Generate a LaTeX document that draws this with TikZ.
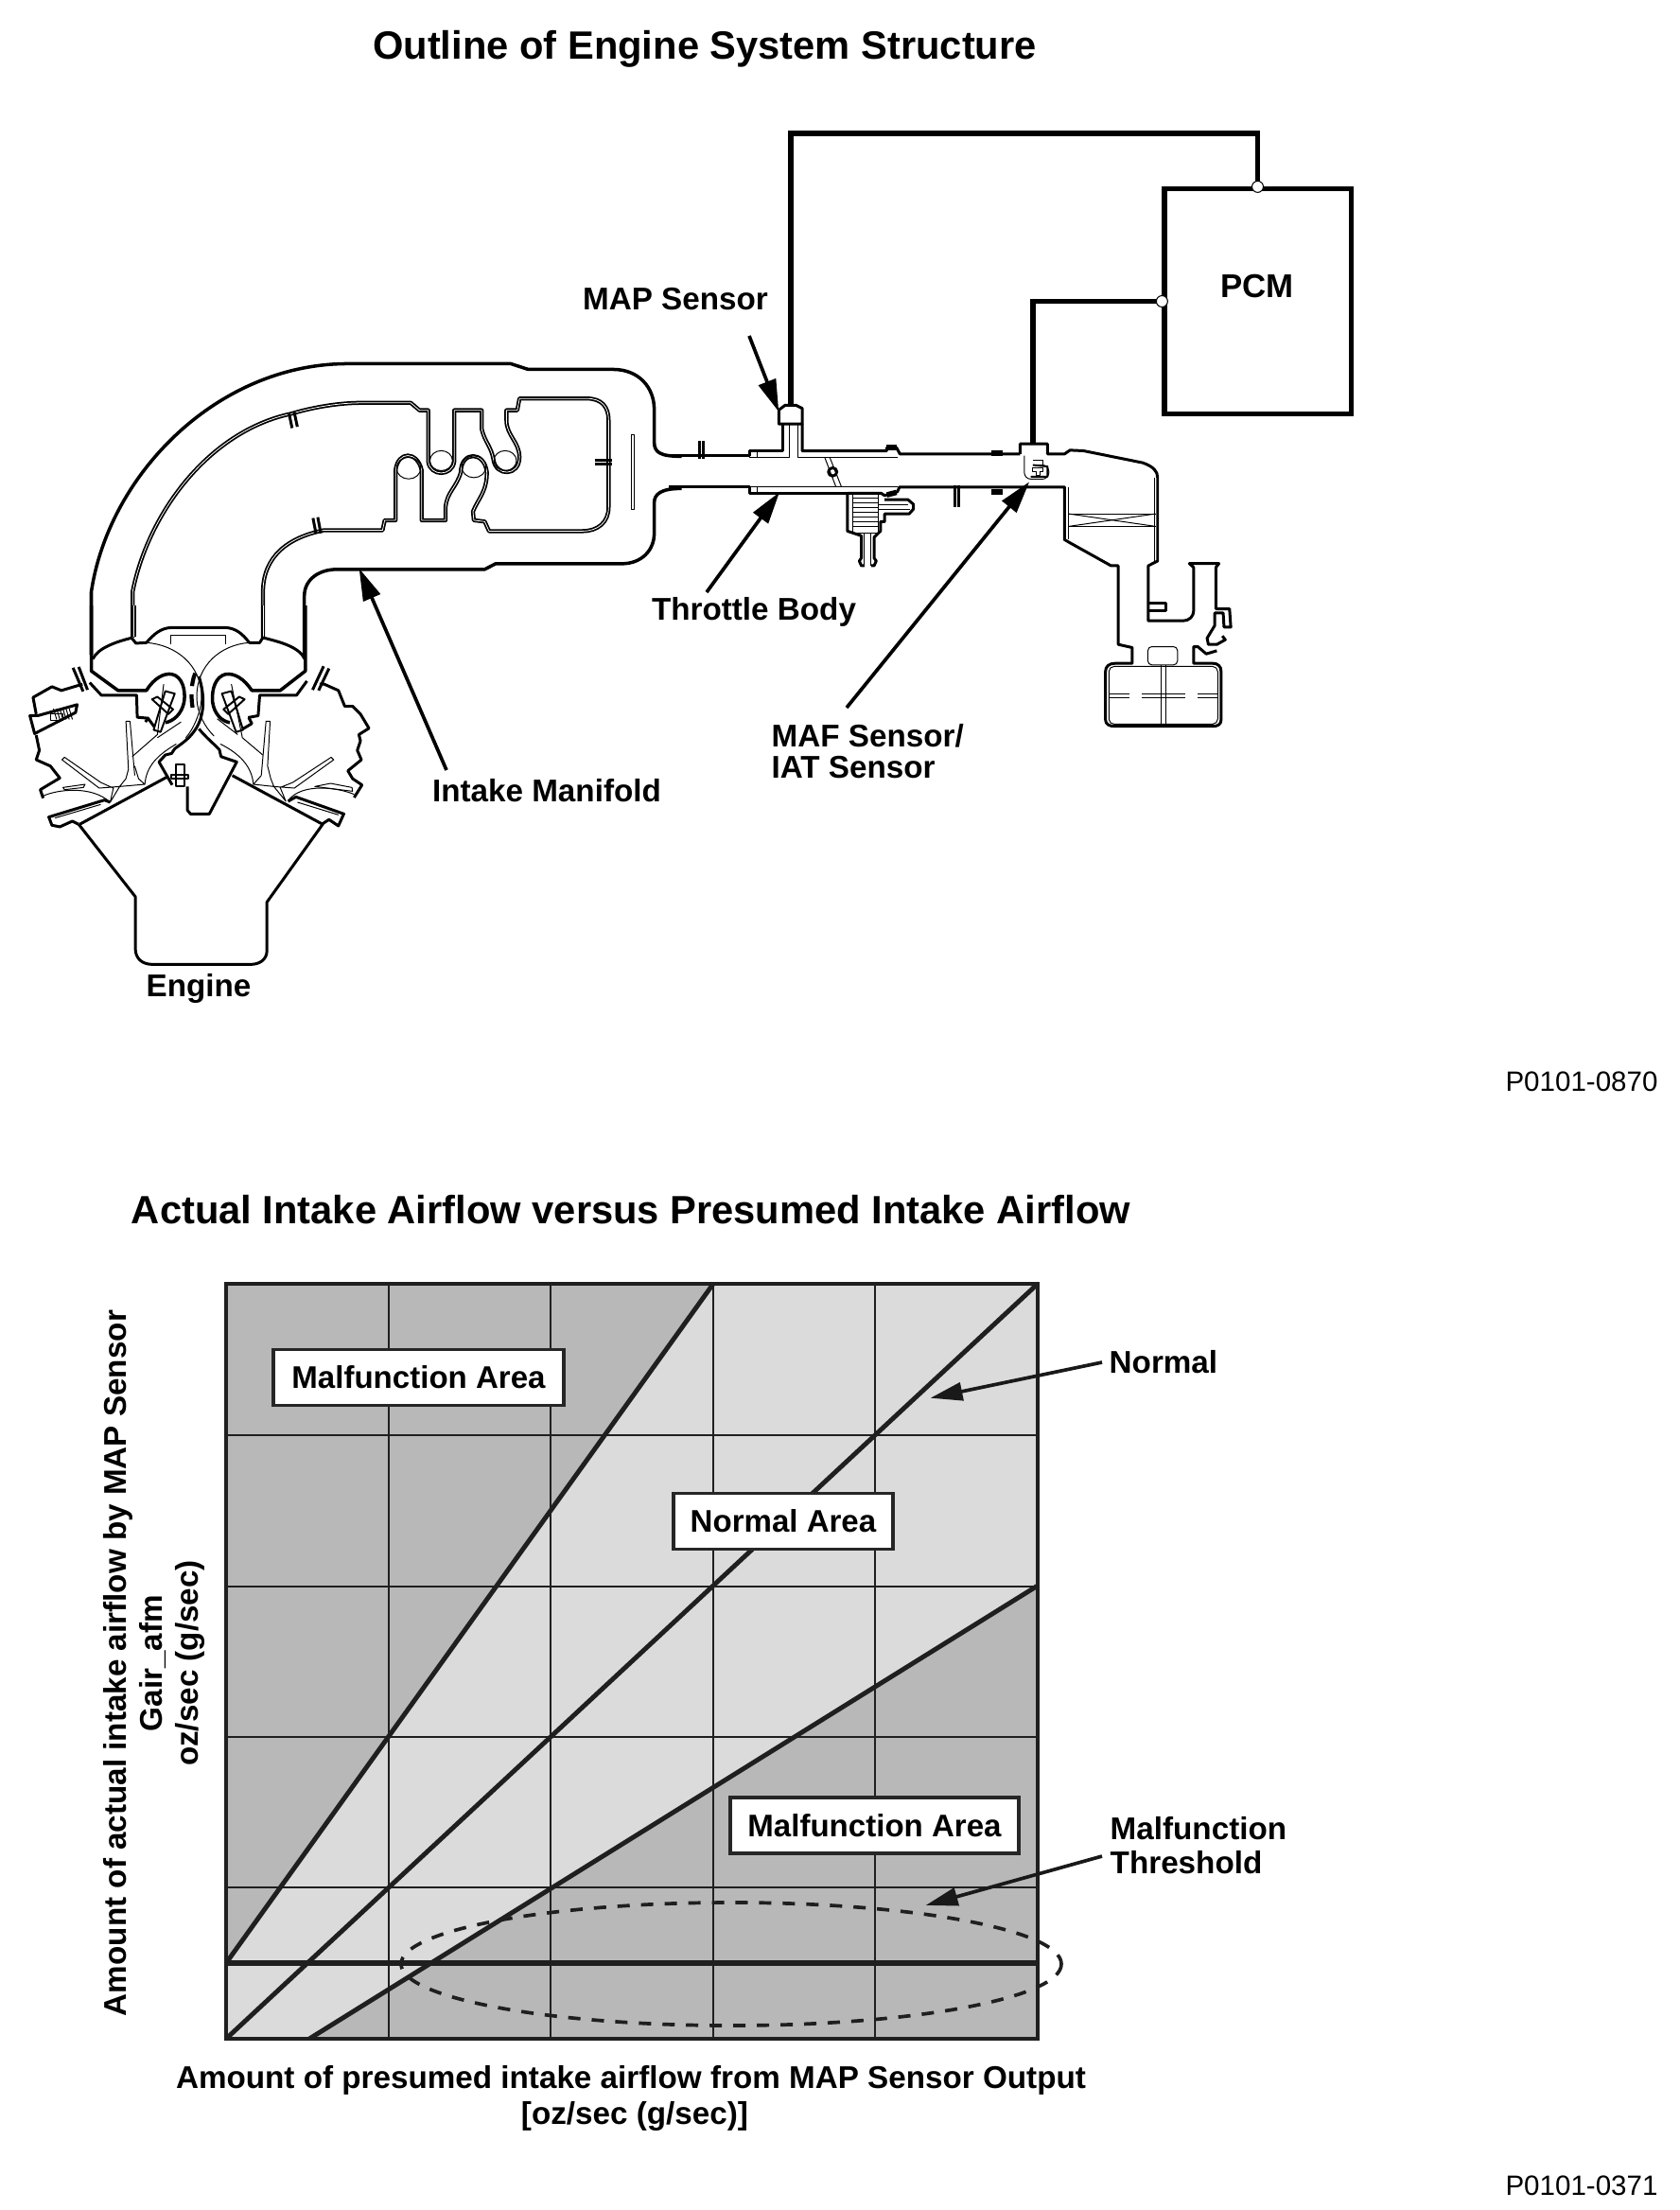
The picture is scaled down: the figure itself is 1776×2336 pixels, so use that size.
\documentclass[tikz,border=0pt]{standalone}
\usepackage{fontspec}
\setmainfont{Liberation Sans}
\usetikzlibrary{arrows.meta,positioning}
\definecolor{darkarea}{gray}{0.72}
\definecolor{lightarea}{gray}{0.86}
\begin{document}
\begin{tikzpicture}[x=0.01cm,y=-0.01cm,
    wall/.style={line width=.85pt,line join=round},
    outerwall/.style={line width=1pt,line join=round},
    duct/.style={line width=.5pt,double=white,double distance=.22pt,line join=round},
    thinwall/.style={line width=.55pt,line join=round},
    fine/.style={line width=.28pt,line join=round},
    wire/.style={line width=1.45pt},
    pointer/.style={line width=1.05pt,-{Triangle[length=3.4mm,width=1.9mm]},shorten >=-1pt},
    gridline/.style={line width=.72pt,color=black!88},
    limitline/.style={line width=1.4pt,color=black!88},
    headtext/.style={font=\fontsize{11.85}{14}\selectfont\bfseries,inner sep=0pt},
    labeltext/.style={font=\fontsize{9.45}{11.5}\selectfont\bfseries,inner sep=0pt},
    codetext/.style={font=\fontsize{8.4}{10}\selectfont,inner sep=0pt},
    areabox/.style={draw=black!85,fill=white,line width=1.1pt,font=\fontsize{9.4}{11}\selectfont\bfseries,inner sep=0pt,minimum height=.59cm},
    pin/.style={circle,draw=black,fill=white,line width=.3pt,inner sep=0pt,minimum size=3.4pt},
    partA/.style={shift={(0,350)},x=0.00459cm,y=-0.00459cm},
    partB/.style={shift={(640,380)},x=0.004464cm,y=-0.003333cm},
    partC/.style={shift={(0,640)},x=0.003333cm,y=-0.003333cm},
]
    \useasboundingbox (0,0) rectangle (1776,2336);

    \node[headtext] (title) at (745,52) {Outline of Engine System Structure};

    \begin{scope}[partA]
        \draw[outerwall] (210,745) -- (210,600) .. controls (250,330) and (500,75) .. (800,75) -- (1175,75) -- (1215,88) -- (1410,88) .. controls (1470,88) and (1505,130) .. (1505,180) -- (1505,255) .. controls (1505,280) and (1520,288) .. (1568,288);
        \draw[outerwall] (700,745) -- (700,610) .. controls (700,570) and (735,548) .. (775,548) -- (1115,548) -- (1140,535) -- (1430,535) .. controls (1475,535) and (1505,505) .. (1505,465) -- (1505,395) .. controls (1505,375) and (1520,362) .. (1568,362);
        \draw[duct] (305,705) -- (305,600) .. controls (340,420) and (480,230) .. (670,190) .. controls (720,175) and (780,165) .. (830,165) -- (945,165) -- (965,182) -- (985,182) -- (985,300) .. controls (990,335) and (1040,335) .. (1045,300) -- (1045,182) -- (1108,182) -- (1108,225) .. controls (1115,255) and (1130,265) .. (1135,295) .. controls (1140,335) and (1195,335) .. (1195,290) .. controls (1195,255) and (1165,240) .. (1165,205) -- (1165,182) -- (1190,182) -- (1195,155) -- (1350,155) .. controls (1385,155) and (1400,175) .. (1400,205) -- (1400,405) .. controls (1400,440) and (1375,460) .. (1340,460) -- (1125,460) -- (1115,438) -- (1090,435) -- (1088,415) .. controls (1100,385) and (1120,370) .. (1120,325) .. controls (1115,275) and (1060,275) .. (1060,325) .. controls (1050,360) and (1028,370) .. (1025,405) -- (1025,435) -- (970,435) -- (970,320) .. controls (960,275) and (915,275) .. (910,320) -- (910,435) -- (885,435) -- (880,458) -- (745,458) .. controls (660,475) and (605,520) .. (605,600) -- (605,705);
        \draw[fine] (1015,298) ellipse [x radius=26,y radius=23];
        \draw[fine] (1162,298) ellipse [x radius=26,y radius=23];
        \draw[fine] (1090,312) ellipse [x radius=28,y radius=25];
        \draw[fine] (940,315) ellipse [x radius=28,y radius=25];
        \draw[wall] (665,190) -- (672,223);
        \draw[wall] (677,187) -- (684,220);
        \draw[wall] (720,430) -- (727,466);
        \draw[wall] (731,428) -- (738,465);
        \draw[wall] (1368,297) -- (1408,297);
        \draw[wall] (1368,306) -- (1408,306);
        \draw[fine] (1452,238) rectangle (1458,410);
    \end{scope}

    \begin{scope}[partB]
        \draw[wall] (150,305) -- (340,305) -- (340,290) -- (420,290) -- (420,205);
        \draw[wall] (465,205) -- (465,290) -- (665,290) -- (665,280) -- (688,280) -- (696,300) -- (980,300);
        \draw[wall] (410,205) -- (410,160) -- (425,145) -- (450,145) -- (465,155) -- (465,205) -- cycle;
        \draw[wall] (980,300) -- (980,268) -- (1045,268) -- (1045,300) -- (1085,300) -- (1098,288) -- (1130,290) -- (1270,328) .. controls (1295,340) and (1305,355) .. (1305,375) -- (1305,640) -- (1283,655) -- (1283,830) -- (1365,830) .. controls (1380,830) and (1390,815) .. (1390,800) -- (1390,660) -- (1380,648) -- (1450,648) -- (1443,660) -- (1443,792) -- (1475,792) -- (1478,850) -- (1462,850) -- (1460,805) -- (1440,805) -- (1440,845) -- (1422,885) -- (1425,905) -- (1445,905) -- (1465,890) -- (1458,878);
        \draw[wall] (1445,925) -- (1420,935) -- (1400,912) -- (1390,912) -- (1390,965) -- (1435,965) .. controls (1448,965) and (1455,975) .. (1455,990) -- (1455,1145) .. controls (1455,1158) and (1448,1165) .. (1435,1165) -- (1205,1165) .. controls (1190,1165) and (1182,1158) .. (1182,1145) -- (1182,990) .. controls (1182,975) and (1190,965) .. (1205,965) -- (1245,965) -- (1245,915) -- (1212,905) -- (1212,655) -- (1195,655) -- (1095,580) -- (1085,572) -- (1085,405) -- (695,405) -- (690,420) -- (660,432) -- (652,425) -- (572,425) -- (572,545) -- (605,560) -- (605,630) -- (600,640) -- (605,655) -- (612,655);
        \draw[wall] (628,655) -- (635,655) -- (640,640) -- (635,630) -- (635,565) -- (650,545) -- (650,515) -- (660,515) -- (660,490) -- (718,490) -- (728,475) -- (728,460) -- (715,445) -- (660,445);
        \draw[wall] (572,425) -- (340,425) -- (340,405) -- (150,405);
        \draw[fine] (340,310) -- (435,310) -- (435,205);
        \draw[fine] (455,205) -- (455,310) -- (690,310);
        \draw[fine] (358,290) -- (358,310);
        \draw[fine] (358,405) -- (358,425);
        \draw[fine] (340,405) -- (690,405);
        \draw[fine] (518,310) -- (545,405);
        \draw[fine] (530,310) -- (558,405);
        \draw[wall] (537,357) ellipse [x radius=10,y radius=13];
        \draw[wall] (222,258) -- (222,315);
        \draw[wall] (232,258) -- (232,315);
        \draw[wall] (825,400) -- (825,470);
        \draw[wall] (835,400) -- (835,470);
        \draw[wall,line width=1.6pt] (665,280) -- (688,280);
        \draw[wall,line width=1.6pt] (665,430) -- (688,422);
        \draw[wall,line width=1.6pt] (912,297) -- (940,297);
        \draw[wall,line width=1.6pt] (912,420) -- (940,420);
        \draw[fine] (585,425) rectangle (645,550);
        \foreach \yy in {440,455,470,485,500,515,530}
            \draw[fine,line width=.22pt] (585,\yy) -- (645,\yy);
        \draw[fine] (612,550) -- (612,655);
        \draw[fine] (628,550) -- (628,655);
        \draw[fine] (645,460) -- (715,460);
        \draw[fine] (645,475) -- (720,475);
        \draw[fine,rounded corners=2pt] (990,305) -- (990,380) -- (1048,380) -- (1048,335) -- (1012,335);
        \draw[thinwall] (1010,335) -- (1045,340) -- (1045,372) -- (1005,372);
        \draw[fine] (1010,320) -- (1035,320) -- (1035,335);
        \draw[fine] (1010,345) -- (1035,345) -- (1035,355) -- (1028,355) -- (1028,368) -- (1018,368) -- (1018,355) -- (1010,355) -- cycle;
        \draw[fine] (1095,490) -- (1300,490);
        \draw[fine] (1095,530) -- (1300,530);
        \draw[fine] (1095,490) -- (1300,530);
        \draw[fine] (1095,530) -- (1300,490);
        \draw[fine] (1095,405) -- (1095,570);
        \draw[fine] (1298,375) -- (1298,640);
        \draw[wall] (1283,775) -- (1325,775) -- (1325,798) -- (1283,798);
        \draw[fine,rounded corners=1.2pt] (1282,912) rectangle (1352,970);
        \draw[fine] (1314,972) -- (1314,1158);
        \draw[fine] (1324,972) -- (1324,1158);
        \draw[fine] (1190,1062) -- (1238,1062);
        \draw[fine] (1190,1074) -- (1238,1074);
        \draw[fine] (1268,1062) -- (1370,1062);
        \draw[fine] (1268,1074) -- (1370,1074);
        \draw[fine] (1400,1062) -- (1448,1062);
        \draw[fine] (1400,1074) -- (1448,1074);
        \draw[fine,rounded corners=1.5pt] (1190,975) rectangle (1447,1158);
    \end{scope}

    \begin{scope}[partC]
        \draw[outerwall] (290,0) -- (290,208) -- (375,270) -- (465,270) .. controls (490,230) and (520,215) .. (545,218) .. controls (580,225) and (590,270) .. (585,305) .. controls (578,345) and (550,368) .. (525,372);
        \draw[outerwall] (970,0) -- (970,208) -- (890,270) -- (800,270) .. controls (775,232) and (745,215) .. (718,218) .. controls (685,225) and (672,265) .. (675,305) .. controls (680,345) and (705,368) .. (730,372);
        \draw[duct] (425,0) -- (425,100);
        \draw[duct] (835,0) -- (835,100);
        \draw[wall] (295,170) .. controls (310,135) and (370,115) .. (418,103) -- (432,120) -- (465,118) .. controls (490,90) and (510,72) .. (545,70) -- (715,70) .. controls (750,72) and (770,90) .. (792,118) -- (825,118) -- (835,102) .. controls (885,115) and (950,130) .. (968,170);
        \draw[fine] (542,95) -- (716,95) -- (716,122);
        \draw[fine] (542,95) -- (542,122);
        \draw[fine] (465,118) .. controls (560,125) and (640,190) .. (640,290) .. controls (640,340) and (610,400) .. (590,420);
        \draw[fine] (792,118) .. controls (700,125) and (625,190) .. (625,290) .. controls (625,340) and (650,385) .. (680,415);
        \draw[wall] (632,225) .. controls (652,290) and (650,350) .. (620,395) .. controls (600,425) and (575,440) .. (555,455) -- (545,470) -- (525,475) -- (505,497) -- (547,570);
        \draw[wall] (632,392) .. controls (655,420) and (680,440) .. (697,458) -- (702,480) -- (752,497) -- (665,662) -- (605,662) -- (595,650) -- (595,575);
        \draw[wall,dash pattern=on 4pt off 2.5pt,line width=1.2pt] (620,215) .. controls (605,250) and (605,310) .. (618,350);
        \draw[wall] (253,695) -- (530,545);
        \draw[wall] (738,540) -- (1025,695) -- (848,942) -- (848,1095) .. controls (848,1125) and (825,1140) .. (795,1140) -- (485,1140) .. controls (450,1140) and (430,1120) .. (430,1090) -- (430,925) -- (250,695);
        \draw[thinwall] (558,505) rectangle (585,575);
        \draw[thinwall] (545,538) rectangle (598,550);
        \draw[wall] (285,245) -- (322,285) -- (434,285) -- (436,355) -- (470,358);
        \draw[wall] (975,240) -- (942,285) -- (825,285) -- (820,350) -- (788,356);
        \draw[wall] (232,198) -- (264,273);
        \draw[wall] (250,195) -- (278,268);
        \draw[wall] (1028,193) -- (993,268);
        \draw[wall] (1045,200) -- (1012,270);
        \draw[wall] (262,250) -- (195,270) -- (165,258) -- (105,292) -- (115,345);
        \draw[wall] (95,350) -- (110,407) -- (240,340) -- (245,315) -- (120,350) -- cycle;
        \draw[wall] (115,412) -- (125,460) -- (115,490) -- (160,510) -- (190,548) -- (128,585) -- (137,612);
        \draw[fine] (160,345) rectangle (200,365);
        \foreach \xx in {170,180,190,200,210,220}
            \draw[fine] (\xx,328) -- (\xx+10,362);
        \draw[wall] (250,695) -- (230,685) -- (190,703) -- (165,698) -- (155,672) -- (332,618) -- (350,625);
        \draw[fine] (175,675) -- (320,632);
        \draw[fine] (137,605) .. controls (180,585) and (290,570) .. (350,625);
        \draw[fine] (197,490) -- (205,482) -- (320,562) -- (360,580) -- (350,625) -- (380,575) -- (315,580) -- cycle;
        \draw[fine] (200,578) -- (270,568) -- (265,578) -- (205,585) -- cycle;
        \draw[fine] (400,368) -- (413,368) -- (428,540);
        \draw[fine] (400,368) -- (408,520) -- (400,550) -- (380,575) -- (460,568) -- (440,550) -- (428,510);
        \draw[fine] (420,480) -- (500,410) -- (520,250);
        \draw[fine] (460,568) .. controls (465,510) and (500,475) .. (560,440);
        \draw[thinwall] (525,272) -- (555,280) -- (510,402) -- (488,395) -- cycle;
        \draw[thinwall] (483,298) -- (500,290) -- (550,330) -- (535,345) -- cycle;
        \draw[wall] (462,370) -- (470,358) -- (490,385);
        \draw[fine] (500,420) -- (575,370);
        \draw[wall] (1022,695) -- (1045,680) -- (1075,700) -- (1092,662) -- (940,608) -- (915,622);
        \draw[fine] (945,625) -- (1075,665);
        \draw[fine] (1125,600) .. controls (1080,580) and (960,560) .. (915,620);
        \draw[fine] (1060,490) -- (1052,482) -- (930,562) -- (890,578) -- (908,622) -- (870,575) -- (935,580) -- cycle;
        \draw[fine] (1000,575) -- (1120,590) -- (1118,578) -- (1050,565) -- cycle;
        \draw[fine] (858,368) -- (845,368) -- (830,540);
        \draw[fine] (858,368) -- (850,510) -- (860,550) -- (870,575) -- (805,568) -- (830,540);
        \draw[fine] (835,475) -- (770,420) -- (735,250);
        \draw[fine] (805,568) .. controls (800,510) and (760,470) .. (700,440);
        \draw[thinwall] (735,272) -- (705,280) -- (750,402) -- (772,395) -- cycle;
        \draw[thinwall] (777,298) -- (760,290) -- (710,330) -- (725,345) -- cycle;
        \draw[wall] (790,356) -- (800,375) -- (770,393);
        \draw[fine] (755,410) -- (690,360);
        \draw[wall] (1015,250) -- (1030,250) -- (1075,270) -- (1095,320) -- (1120,320) -- (1145,345) -- (1172,390) -- (1140,410) -- (1145,430) -- (1135,460) -- (1148,490) -- (1105,525) -- (1120,550) -- (1150,570) -- (1125,610);
    \end{scope}

    \node[labeltext] (enginelabel) at (210,1045) {Engine};
    \node[labeltext] (manifoldlabel) at (578,836) {Intake Manifold};
    \node[labeltext] (maplabel) at (714,316) {MAP Sensor};
    \node[labeltext] (throttlelabel) at (797,647) {Throttle Body};
    \node[labeltext,align=left,anchor=north west] (maflabel) at (815,765) {MAF Sensor/\\[-2.1pt]IAT Sensor};
    \node[codetext] (upperref) at (1672,1143) {P0101-0870};
    \node[codetext] (lowerref) at (1672,2310) {P0101-0371};

    \coordinate (manifoldtail) at (472,814);
    \coordinate (manifoldtip) at (381,604);
    \coordinate (maptail) at (792,355);
    \coordinate (maptip) at (822,432);
    \coordinate (throttletail) at (747,626);
    \coordinate (throttletip) at (822,523);
    \coordinate (maftail) at (895,748);
    \coordinate (maftip) at (1086,512);
    \draw[pointer] (manifoldtail) -- (manifoldtip);
    \draw[pointer] (maptail) -- (maptip);
    \draw[pointer] (throttletail) -- (throttletip);
    \draw[pointer] (maftail) -- (maftip);

    \node[draw,wire,minimum width=1.97cm,minimum height=2.37cm,inner sep=0pt] (pcm) at (1329.5,318.5) {};
    \node[font=\fontsize{9.9}{11}\selectfont\bfseries,inner sep=0pt] (pcmlabel) at (1329,303) {PCM};
    \coordinate (mapsensor) at (836,428);
    \coordinate (mafsensor) at (1092,469);
    \coordinate (topbend) at (1329.5,141);
    \draw[wire] (mapsensor) |- (topbend) -- (pcm.north);
    \draw[wire] (mafsensor) |- (pcm.west);
    \node[pin] (pintop) at (pcm.north) {};
    \node[pin] (pinleft) at (pcm.west) {};

    \node[headtext] (charttitle) at (667,1279) {Actual Intake Airflow versus Presumed Intake Airflow};

    \coordinate (chartnw) at (239,1357);
    \coordinate (chartne) at (1097,1357);
    \coordinate (chartsw) at (239,2155);
    \coordinate (chartse) at (1097,2155);
    \fill[lightarea] (chartnw) rectangle (chartse);
    \fill[darkarea] (chartnw) -- (754,1357) -- (239,2075) -- cycle;
    \fill[darkarea] (327,2155) -- (1097,1676) -- (chartse) -- cycle;
    \foreach \xx in {411,582,754,925}
        \draw[gridline] (\xx,1357) -- (\xx,2155);
    \foreach \yy in {1517,1677,1836,1995}
        \draw[gridline] (239,\yy) -- (1097,\yy);
    \draw[limitline,line width=1.7pt] (239,2075) -- (1097,2075);
    \draw[limitline] (239,2075) -- (754,1357);
    \draw[limitline] (chartsw) -- (chartne);
    \draw[limitline] (327,2155) -- (1097,1676);
    \draw[line width=1.2pt,color=black!88] (chartnw) rectangle (chartse);
    \draw[line width=1.05pt,dash pattern=on 3.7pt off 3.4pt,color=black!88] (773,2076) ellipse [x radius=349,y radius=65];

    \node[areabox,minimum width=3.07cm] (upperarea) at (442.5,1456) {Malfunction Area};
    \node[areabox,minimum width=2.32cm] (normalarea) at (828,1608) {Normal Area};
    \node[areabox,minimum width=3.05cm] (lowerarea) at (924.5,1929.5) {Malfunction Area};

    \node[labeltext,anchor=west] (normallabel) at (1172,1440) {Normal};
    \node[labeltext,align=left,anchor=north west] (thresholdlabel) at (1173,1920) {Malfunction\\[-1.4pt]Threshold};
    \coordinate (normaltail) at (1165,1440);
    \coordinate (normaltip) at (987,1477);
    \coordinate (thresholdtail) at (1165,1962);
    \coordinate (thresholdtip) at (982,2013);
    \draw[pointer,color=black!90] (normaltail) -- (normaltip);
    \draw[pointer,color=black!90] (thresholdtail) -- (thresholdtip);

    \node[labeltext] (xaxislabel) at (667,2199) {Amount of presumed intake airflow from MAP Sensor Output};
    \node[labeltext] (xaxisunit) at (671,2237) {[oz/sec (g/sec)]};
    \node[labeltext,rotate=90] (yaxislabel) at (125,1758) {Amount of actual intake airflow by MAP Sensor};
    \node[labeltext,rotate=90] (yaxisname) at (161,1758) {Gair\_afm};
    \node[labeltext,rotate=90] (yaxisunit) at (201,1758) {oz/sec (g/sec)};
\end{tikzpicture}
\end{document}
